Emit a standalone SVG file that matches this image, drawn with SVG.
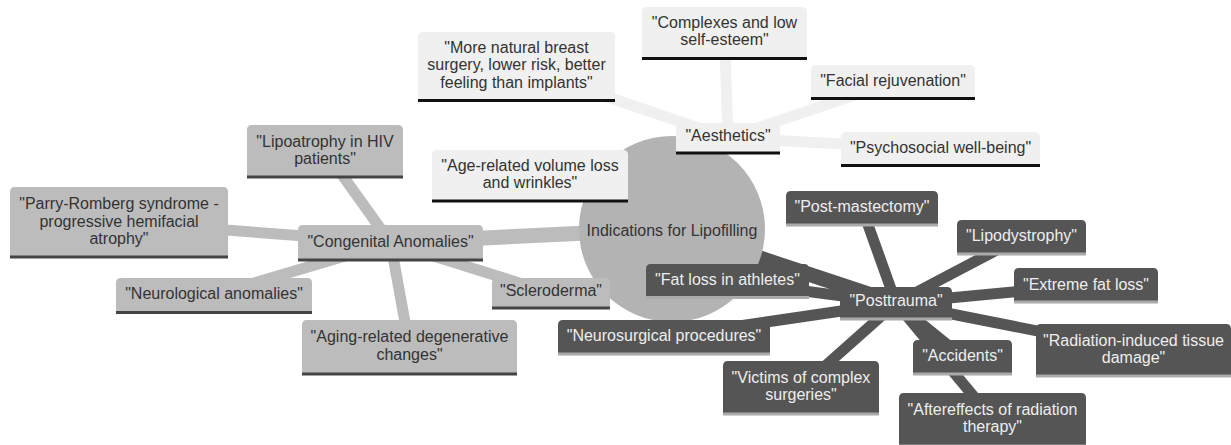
<svg xmlns="http://www.w3.org/2000/svg" width="1231" height="445" viewBox="0 0 1231 445">
<style>
text{font-family:"Liberation Sans",Arial,sans-serif;font-size:16px;text-anchor:middle}
.s0 path{fill:#f0f0f0}.s0 line{stroke:#111;stroke-width:3}.s0 text{fill:#333}
.s1 path{fill:#bcbcbc}.s1 line{stroke:#444;stroke-width:3}.s1 text{fill:#333}
.s2 path{fill:#555}.s2 line{stroke:#aaa;stroke-width:3}.s2 text{fill:#eee}
.e0{stroke:#f0f0f0}.e1{stroke:#bcbcbc}.e2{stroke:#555}
.d0{stroke-width:15}.d1{stroke-width:11}
.root circle{fill:#b3b3b3}.root text{fill:#333}
</style>
<rect width="1231" height="445" fill="#fff"/>
<g id="connectors" fill="none">
<line class="e0 d0" x1="672" y1="229" x2="728" y2="138"/>
<line class="e0 d1" x1="728" y1="138" x2="516.5" y2="66"/>
<line class="e0 d1" x1="728" y1="138" x2="724.5" y2="33"/>
<line class="e0 d1" x1="728" y1="138" x2="893" y2="82"/>
<line class="e0 d1" x1="728" y1="138" x2="940.5" y2="149"/>
<line class="e0 d1" x1="728" y1="138" x2="530" y2="175.5"/>
<line class="e1 d0" x1="672" y1="229" x2="390.5" y2="242.5"/>
<line class="e1 d1" x1="390.5" y1="242.5" x2="325" y2="151"/>
<line class="e1 d1" x1="390.5" y1="242.5" x2="119" y2="222"/>
<line class="e1 d1" x1="390.5" y1="242.5" x2="214" y2="295"/>
<line class="e1 d1" x1="390.5" y1="242.5" x2="409.5" y2="347"/>
<line class="e1 d1" x1="390.5" y1="242.5" x2="551" y2="293"/>
<line class="e2 d0" x1="672" y1="229" x2="896" y2="303"/>
<line class="e2 d1" x1="896" y1="303" x2="862" y2="208"/>
<line class="e2 d1" x1="896" y1="303" x2="727.5" y2="281"/>
<line class="e2 d1" x1="896" y1="303" x2="1021.5" y2="237"/>
<line class="e2 d1" x1="896" y1="303" x2="1086" y2="285"/>
<line class="e2 d1" x1="896" y1="303" x2="1133.5" y2="350"/>
<line class="e2 d1" x1="896" y1="303" x2="962.5" y2="357"/>
<line class="e2 d1" x1="896" y1="303" x2="992.5" y2="419"/>
<line class="e2 d1" x1="896" y1="303" x2="664" y2="337"/>
<line class="e2 d1" x1="896" y1="303" x2="801" y2="387.5"/>
</g>
<g id="root" class="root">
<circle cx="672" cy="229" r="93"/>
<text x="672" y="235.5">Indications for Lipofilling</text>
</g>
<g id="aesthetics" class="s0" transform="translate(676,123)">
<path d="M0,30V5Q0,0 5,0H99Q104,0 104,5V30Z"/><line x1="0" y1="30" x2="104" y2="30"/>
<text x="52" y="17.5">"Aesthetics"</text>
</g>
<g id="natural" class="s0" transform="translate(418,32)">
<path d="M0,68.5V5Q0,0 5,0H192Q197,0 197,5V68.5Z"/><line x1="0" y1="68.5" x2="197" y2="68.5"/>
<text x="98.5" y="20.5">"More natural breast</text>
<text x="98.5" y="38">surgery, lower risk, better</text>
<text x="98.5" y="55.5">feeling than implants"</text>
</g>
<g id="complexes" class="s0" transform="translate(642,7)">
<path d="M0,51.5V5Q0,0 5,0H160Q165,0 165,5V51.5Z"/><line x1="0" y1="51.5" x2="165" y2="51.5"/>
<text x="82.5" y="20.5">"Complexes and low</text>
<text x="82.5" y="38">self-esteem"</text>
</g>
<g id="facial" class="s0" transform="translate(811,65)">
<path d="M0,33.5V5Q0,0 5,0H159Q164,0 164,5V33.5Z"/><line x1="0" y1="33.5" x2="164" y2="33.5"/>
<text x="82" y="20.5">"Facial rejuvenation"</text>
</g>
<g id="psychosocial" class="s0" transform="translate(841,132)">
<path d="M0,33.5V5Q0,0 5,0H194Q199,0 199,5V33.5Z"/><line x1="0" y1="33.5" x2="199" y2="33.5"/>
<text x="99.5" y="20.5">"Psychosocial well-being"</text>
</g>
<g id="agerelated" class="s0" transform="translate(432,150)">
<path d="M0,51V5Q0,0 5,0H191Q196,0 196,5V51Z"/><line x1="0" y1="51" x2="196" y2="51"/>
<text x="98" y="20.5">"Age-related volume loss</text>
<text x="98" y="38">and wrinkles"</text>
</g>
<g id="congenital" class="s1" transform="translate(298,225)">
<path d="M0,35V5Q0,0 5,0H180Q185,0 185,5V35Z"/><line x1="0" y1="35" x2="185" y2="35"/>
<text x="92.5" y="22">"Congenital Anomalies"</text>
</g>
<g id="lipoatrophy" class="s1" transform="translate(247,125)">
<path d="M0,52V5Q0,0 5,0H151Q156,0 156,5V52Z"/><line x1="0" y1="52" x2="156" y2="52"/>
<text x="78" y="22">"Lipoatrophy in HIV</text>
<text x="78" y="39">patients"</text>
</g>
<g id="parry" class="s1" transform="translate(10,187)">
<path d="M0,70V5Q0,0 5,0H213Q218,0 218,5V70Z"/><line x1="0" y1="70" x2="218" y2="70"/>
<text x="109" y="22">"Parry-Romberg syndrome -</text>
<text x="109" y="39.5">progressive hemifacial</text>
<text x="109" y="57">atrophy"</text>
</g>
<g id="neurological" class="s1" transform="translate(116,278)">
<path d="M0,34.5V5Q0,0 5,0H191Q196,0 196,5V34.5Z"/><line x1="0" y1="34.5" x2="196" y2="34.5"/>
<text x="98" y="21">"Neurological anomalies"</text>
</g>
<g id="aging" class="s1" transform="translate(302,320)">
<path d="M0,54V5Q0,0 5,0H210Q215,0 215,5V54Z"/><line x1="0" y1="54" x2="215" y2="54"/>
<text x="107.5" y="22">"Aging-related degenerative</text>
<text x="107.5" y="39.5">changes"</text>
</g>
<g id="scleroderma" class="s1" transform="translate(492,278)">
<path d="M0,30V5Q0,0 5,0H113Q118,0 118,5V30Z"/><line x1="0" y1="30" x2="118" y2="30"/>
<text x="59" y="17.5">"Scleroderma"</text>
</g>
<g id="posttrauma" class="s2" transform="translate(840,287)">
<path d="M0,32V5Q0,0 5,0H107Q112,0 112,5V32Z"/><line x1="0" y1="32" x2="112" y2="32"/>
<text x="56" y="18.5">"Posttrauma"</text>
</g>
<g id="postmastectomy" class="s2" transform="translate(786,191)">
<path d="M0,34V5Q0,0 5,0H147Q152,0 152,5V34Z"/><line x1="0" y1="34" x2="152" y2="34"/>
<text x="76" y="20.5">"Post-mastectomy"</text>
</g>
<g id="fatloss" class="s2" transform="translate(646,264)">
<path d="M0,33.5V5Q0,0 5,0H158Q163,0 163,5V33.5Z"/><line x1="0" y1="33.5" x2="163" y2="33.5"/>
<text x="81.5" y="21">"Fat loss in athletes"</text>
</g>
<g id="lipodystrophy" class="s2" transform="translate(957,220)">
<path d="M0,34V5Q0,0 5,0H124Q129,0 129,5V34Z"/><line x1="0" y1="34" x2="129" y2="34"/>
<text x="64.5" y="20.5">"Lipodystrophy"</text>
</g>
<g id="extreme" class="s2" transform="translate(1014,268)">
<path d="M0,34V5Q0,0 5,0H139Q144,0 144,5V34Z"/><line x1="0" y1="34" x2="144" y2="34"/>
<text x="72" y="21.5">"Extreme fat loss"</text>
</g>
<g id="radiation" class="s2" transform="translate(1036,324)">
<path d="M0,52V5Q0,0 5,0H190Q195,0 195,5V52Z"/><line x1="0" y1="52" x2="195" y2="52"/>
<text x="97.5" y="21.5">"Radiation-induced tissue</text>
<text x="97.5" y="38.5">damage"</text>
</g>
<g id="accidents" class="s2" transform="translate(913,340)">
<path d="M0,34V5Q0,0 5,0H94Q99,0 99,5V34Z"/><line x1="0" y1="34" x2="99" y2="34"/>
<text x="49.5" y="20.5">"Accidents"</text>
</g>
<g id="aftereffects" class="s2" transform="translate(899,393)">
<path d="M0,53V5Q0,0 5,0H182Q187,0 187,5V53Z"/><line x1="0" y1="53" x2="187" y2="53"/>
<text x="93.5" y="22">"Aftereffects of radiation</text>
<text x="93.5" y="39">therapy"</text>
</g>
<g id="neurosurgical" class="s2" transform="translate(558,320)">
<path d="M0,34V5Q0,0 5,0H207Q212,0 212,5V34Z"/><line x1="0" y1="34" x2="212" y2="34"/>
<text x="106" y="20.5">"Neurosurgical procedures"</text>
</g>
<g id="victims" class="s2" transform="translate(723,361)">
<path d="M0,53V5Q0,0 5,0H151Q156,0 156,5V53Z"/><line x1="0" y1="53" x2="156" y2="53"/>
<text x="78" y="22">"Victims of complex</text>
<text x="78" y="38.5">surgeries"</text>
</g>
</svg>
